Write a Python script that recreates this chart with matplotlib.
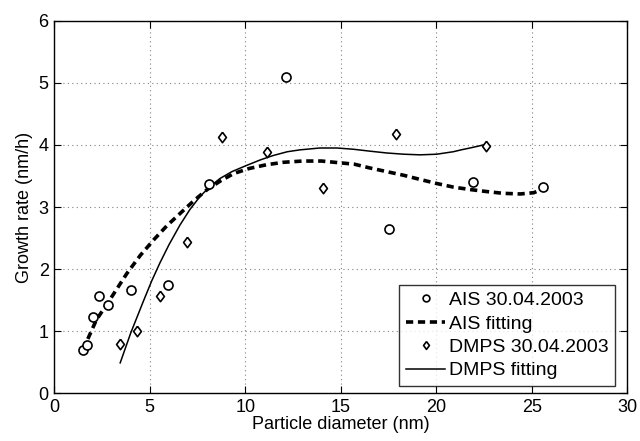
import matplotlib
matplotlib.use("Agg")
import matplotlib.pyplot as plt

# measured points
ais_d = [1.52, 1.73, 2.03, 2.36, 2.79, 4.02, 5.97, 8.12, 12.15, 17.54, 21.92, 25.57]
ais_gr = [0.70, 0.77, 1.23, 1.56, 1.42, 1.67, 1.74, 3.37, 5.09, 2.65, 3.40, 3.33]
dmps_d = [3.44, 4.35, 5.52, 6.96, 8.80, 11.14, 14.08, 17.87, 22.59]
dmps_gr = [0.80, 1.01, 1.56, 2.43, 4.12, 3.89, 3.30, 4.18, 3.98]

# fitted curves
ais_fit_d = [1.5, 2.2, 3.0, 3.8, 4.5, 5.2, 5.9, 6.6, 7.3, 8.0, 8.7, 9.4, 10.2,
             11.1, 12.0, 13.0, 14.0, 15.0, 15.7, 16.5, 17.4, 18.3, 19.2, 20.0,
             20.9, 21.8, 22.6, 23.5, 24.4, 25.1, 25.5]
ais_fit_gr = [0.70, 1.18, 1.55, 1.93, 2.22, 2.47, 2.70, 2.90, 3.10, 3.28, 3.42,
              3.54, 3.62, 3.68, 3.72, 3.74, 3.74, 3.71, 3.69, 3.63, 3.57, 3.51,
              3.44, 3.38, 3.32, 3.28, 3.25, 3.22, 3.21, 3.23, 3.28]
dmps_fit_d = [3.45, 4.0, 4.66, 5.1, 5.53, 6.0, 6.58, 7.1, 7.63, 8.15, 8.68, 9.3,
              10.07, 10.8, 11.47, 12.2, 12.86, 13.9, 14.8, 15.66, 16.5, 17.4,
              18.3, 19.15, 20.02, 20.89, 21.3, 21.76, 22.2, 22.59]
dmps_fit_gr = [0.49, 0.97, 1.48, 1.81, 2.10, 2.39, 2.71, 2.96, 3.17, 3.33, 3.46,
               3.57, 3.67, 3.76, 3.83, 3.89, 3.92, 3.95, 3.95, 3.93, 3.90, 3.87,
               3.85, 3.84, 3.85, 3.89, 3.92, 3.95, 3.98, 4.01]

plt.rcParams["font.family"] = ["Liberation Sans", "DejaVu Sans"]

DIAMOND = [(0, 1), (0.75, 0), (0, -1), (-0.75, 0), (0, 1)]

fig = plt.figure(figsize=(6.4, 4.41), dpi=100)
ax = fig.add_axes([54.3 / 640, 1 - 393.3 / 441, (627.3 - 54.3) / 640, (393.3 - 20.7) / 441])

ax.plot(ais_d, ais_gr, "o", ms=6.5, mfc="white", mec="black", mew=1.2,
        ls="none", label="AIS 30.04.2003", zorder=3)
ax.plot(ais_fit_d, ais_fit_gr, color="black", lw=2.6, ls=(0, (2.0, 1.3)),
        label="AIS fitting", zorder=2)
ax.plot(dmps_d, dmps_gr, marker=DIAMOND, ms=7.5, mfc="white", mec="black", mew=1.2,
        ls="none", label="DMPS 30.04.2003", zorder=3)
ax.plot(dmps_fit_d, dmps_fit_gr, color="black", lw=1.1,
        label="DMPS fitting", zorder=2)

ax.set_xlim(0, 30)
ax.set_ylim(0, 6)
ax.set_xticks(range(0, 31, 5))
ax.set_yticks(range(0, 7))
ax.grid(True, ls=(0, (1, 3)), color="#808080", lw=0.8)
ax.tick_params(direction="in", top=True, right=True, labelsize=13, length=5,
               width=0.8, pad=4)
for s in ax.spines.values():
    s.set_linewidth(1.0)

ax.set_xlabel("Particle diameter (nm)", fontsize=13, labelpad=0)
ax.set_ylabel("Growth rate (nm/h)", fontsize=13, labelpad=4)

leg = ax.legend(loc="lower right", bbox_to_anchor=(1 - 12 / 573, 7 / 372.6),
                fontsize=14, frameon=True, fancybox=False, edgecolor="black",
                handlelength=2.0, handletextpad=0.2, borderpad=0.35,
                labelspacing=0.3, borderaxespad=0, markerscale=0.75)
leg.get_frame().set_linewidth(1.0)

fig.savefig("out.png", dpi=100)
